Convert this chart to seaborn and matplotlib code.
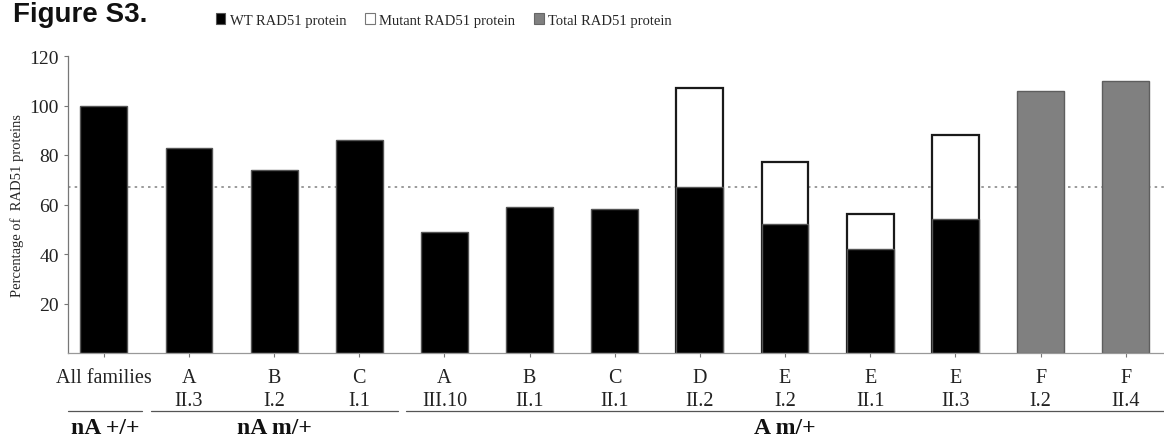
import numpy as np
import pandas as pd
import matplotlib.pyplot as plt
import matplotlib.transforms as mtransforms
from matplotlib.patches import Patch
import seaborn as sns

# values (percentage of RAD51 protein)
labels = ["All families", "A\nII.3", "B\nI.2", "C\nI.1", "A\nIII.10", "B\nII.1",
          "C\nII.1", "D\nII.2", "E\nI.2", "E\nII.1", "E\nII.3", "F\nI.2", "F\nII.4"]
wt = [100, 83, 74, 86, 49, 59, 58, 67, 52, 42, 54, np.nan, np.nan]
mutant = [0, 0, 0, 0, 0, 0, 0, 40, 25, 14, 34, np.nan, np.nan]
total = [np.nan] * 11 + [106, 110]
groups = ["nA +/+", "nA m/+", "A m/+"]
group_sizes = [1, 3, 9]
threshold = 67
legend_labels = ["WT RAD51 protein", "Mutant RAD51 protein", "Total RAD51 protein"]

df = pd.DataFrame({"label": labels, "wt": wt, "mutant": mutant, "total": total})
df["stack"] = df["wt"] + df["mutant"]

sns.set_style("white")
plt.rcParams["font.family"] = ["Liberation Serif", "DejaVu Serif"]

fig = plt.figure(figsize=(11.64, 4.39), dpi=100)
ax = fig.add_axes([68 / 1164, 85 / 439, 1 - 68 / 1164, 297 / 439])

bw = 0.55
# wt + mutant drawn first as white, wt drawn on top in black
sns.barplot(data=df[df["mutant"] > 0], x="label", y="stack", order=labels,
            color="white", edgecolor="#1a1a1a", linewidth=1.6, width=bw,
            saturation=1, errorbar=None, ax=ax)
sns.barplot(data=df.dropna(subset=["wt"]), x="label", y="wt", order=labels,
            color="black", edgecolor="#555555", linewidth=1, width=bw,
            saturation=1, errorbar=None, ax=ax)
sns.barplot(data=df.dropna(subset=["total"]), x="label", y="total", order=labels,
            color="#808080", edgecolor="#5e5e5e", linewidth=1, width=bw,
            saturation=1, errorbar=None, ax=ax)

ax.axhline(threshold, color="#8a8a8a", ls=(0, (1.5, 2.5)), lw=1.2, zorder=0.5)

ax.set_xlim(-0.42, 12.45)
ax.set_ylim(0, 120)
ax.set_yticks([20, 40, 60, 80, 100, 120])
ax.set_xlabel("")
ax.set_ylabel("Percentage of  RAD51 proteins", fontsize=10.5, labelpad=4)
ax.tick_params(axis="both", direction="out", length=3, width=0.8, color="#777777",
               labelcolor="#222222", left=True, bottom=True)
ax.tick_params(axis="y", labelsize=14)
ax.tick_params(axis="x", labelsize=14.5, pad=7.5)
plt.setp(ax.get_xticklabels(), linespacing=1.3)
sns.despine(ax=ax)
ax.spines["left"].set_color("#777777")
ax.spines["bottom"].set_color("#999999")
ax.spines["left"].set_linewidth(0.9)
ax.spines["bottom"].set_linewidth(0.9)

# group brackets under the tick labels
trans = mtransforms.blended_transform_factory(ax.transData, ax.transAxes)
lo, hi = ax.get_xlim()
start = 0
for name, n in zip(groups, group_sizes):
    x0 = max(start - 0.45, lo)
    x1 = min(start + n - 1 + 0.45, hi)
    ax.plot([x0, x1], [-0.194, -0.194], transform=trans, color="#555555",
            lw=0.9, clip_on=False)
    ax.text((x0 + x1) / 2, -0.25, name, transform=trans, ha="center", va="center",
            fontsize=17, fontweight="bold", color="#111111")
    start += n

fig.text(13 / 1164, 1 - 2 / 439, "Figure S3.", fontsize=20, fontweight="bold",
         family="Liberation Sans", ha="left", va="top", color="#111111")

handles = [Patch(facecolor="black", edgecolor="#555555", lw=0.8),
           Patch(facecolor="white", edgecolor="#777777", lw=0.8),
           Patch(facecolor="#808080", edgecolor="#666666", lw=0.8)]
fig.legend(handles, legend_labels, loc="center left",
           bbox_to_anchor=(216 / 1164, 1 - 21 / 439), ncol=3, frameon=False,
           fontsize=10.5, handlelength=0.65, handleheight=0.8, handletextpad=0.3,
           columnspacing=1.3, borderpad=0, borderaxespad=0)

fig.savefig("out.png", dpi=100)
